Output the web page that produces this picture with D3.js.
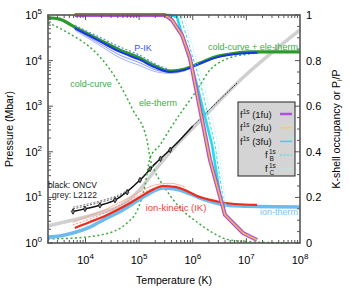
<!DOCTYPE html>
<html><head><meta charset="utf-8">
<script src="https://cdn.jsdelivr.net/npm/d3@7"></script>
<style>body{margin:0;background:#fff}svg{display:block}text{font-family:"Liberation Sans",Arial,sans-serif}</style>
</head><body><svg id="c" width="349" height="291"></svg>
<script>
// ---- tick values ----
const xTickVals=[1e4,1e5,1e6,1e7,1e8];
const xTickExps=["4","5","6","7","8"];
const yLeftTickVals=[1,10,100,1000,1e4,1e5];
const yLeftTickExps=["0","1","2","3","4","5"];
const yRightTickVals=[0,0.2,0.4,0.6,0.8,1];
const yRightTickLabels=["0","0.2","0.4","0.6","0.8","1"];

// ---- fraction curves (right axis) : [T (K), fraction] ----
const totalColdEle=[[2000,0.988],[3300,0.982],[6300,0.947],[18600,0.890],[44000,0.846],[104000,0.811],[198000,0.776],[377000,0.754],[717000,0.763],[1.37e6,0.789],[2.6e6,0.816],[4.95e6,0.829],[1.17e7,0.838],[1e8,0.838]];
const pIK=[[6300,0.942],[18600,0.884],[44000,0.838],[104000,0.803],[198000,0.770],[377000,0.750],[717000,0.760],[1.37e6,0.787],[2.6e6,0.812],[4.95e6,0.826],[1.6e7,0.834]];
const pIKdash=[[6300,0.955],[18600,0.902],[44000,0.860],[104000,0.823],[198000,0.786],[377000,0.760]];
const pIKthinA=[[6300,0.934],[18600,0.866],[44000,0.812],[104000,0.778],[198000,0.752],[377000,0.744],[717000,0.755]];
const pIKthinB=[[6300,0.939],[18600,0.874],[44000,0.824],[104000,0.790],[198000,0.760],[377000,0.748]];
const coldCurve=[[2000,0.966],[4500,0.925],[18600,0.816],[38700,0.715],[76900,0.583],[140000,0.452],[160000,0.373],[200000,0.31],[279000,0.254],[579000,0.154],[1.2e6,0.092],[2.4e6,0.044],[4.95e6,0.013],[1.58e7,0.004],[6e7,0.0]];
const eleTherm=[[2000,0.018],[6400,0.022],[18600,0.035],[35500,0.053],[61000,0.09],[95000,0.15],[128000,0.25],[160000,0.373],[245000,0.43],[377000,0.50],[579000,0.566],[889000,0.627],[1.37e6,0.693],[2.1e6,0.759],[2.83e6,0.785],[5.3e6,0.815],[1.17e7,0.83],[1.8e7,0.836]];
const ionKinetic=[[6300,0.066],[12100,0.092],[25200,0.123],[50000,0.158],[104000,0.202],[160000,0.228],[279000,0.250],[467000,0.246],[717000,0.232],[1.2e6,0.206],[2.1e6,0.189],[3.2e6,0.180],[6.1e6,0.171],[1.58e7,0.167]];
const ionKinThinA=[[5800,0.09],[12100,0.12],[25200,0.15],[50000,0.185],[104000,0.225],[200000,0.255],[380000,0.262],[717000,0.245]];
const ionKinThinB=[[5800,0.08],[12100,0.105],[25200,0.137],[50000,0.172],[104000,0.213],[200000,0.243],[380000,0.255]];
const ionTherm=[[2000,0.026],[3300,0.031],[5800,0.044],[12100,0.070],[25200,0.110],[50000,0.145],[104000,0.193],[160000,0.219],[279000,0.241],[467000,0.237],[889000,0.215],[1.69e6,0.189],[3.2e6,0.171],[7.6e6,0.162],[1e8,0.158]];
const f1s1fu=[[6300,1.0],[304000,1.0],[410000,0.978],[631000,0.912],[889000,0.811],[2.1e6,0.364],[4.0e6,0.123],[8.65e6,0.044],[1.58e7,0.013]];
const f1s2fu=[[6300,1.0],[304000,1.0],[410000,0.978],[631000,0.912],[889000,0.811],[2.1e6,0.364],[4.0e6,0.123],[8.65e6,0.044],[1.58e7,0.013]];
const f1s3fu=[[6300,1.0],[380000,1.0],[508000,0.991],[1.2e6,0.693],[2.29e6,0.43],[3.22e6,0.211],[3.8e6,0.155]];
const f1sB=[[6300,1.0],[450000,1.0],[600000,0.99],[1.4e6,0.70],[2.6e6,0.43],[3.6e6,0.21],[4.0e6,0.155]];
const f1sC=[[6300,1.0],[500000,1.0],[680000,0.99],[1.6e6,0.70],[3.0e6,0.43],[3.9e6,0.21],[4.2e6,0.155]];

// ---- pressure curves (left axis) : [T (K), P (Mbar)] ----
const oncv=[[5850,4.9],[9800,5.6],[18600,6.7],[35500,8.7],[104000,24],[200000,55],[467000,141],[1e6,370]];
const oncvHigh=[[1e6,370],[3.2e6,1400],[6.7e6,3200]];
const oncvMarkers=[[5850,4.9],[9800,5.6],[18600,6.7],[35500,8.7],[60000,13],[104000,24],[160000,42],[250000,70],[380000,110]];
const oncvDashA=[[5850,5.6],[18600,7.8],[35500,9.8],[60000,13.5]];
const oncvDashB=[[5850,6.1],[18600,8.4],[35500,10.5],[60000,14.2]];
const l2122=[[2000,2.36],[5850,3.2],[18600,4.55],[44000,6.5],[104000,15],[200000,40],[467000,130],[1.37e6,480],[6.7e6,3200],[1e8,46900]];

const svg=d3.select("#c");
const x=d3.scaleLog().domain([2000,1e8]).range([48,300]);
const yL=d3.scaleLog().domain([1,1e5]).range([243,15]);
const yR=d3.scaleLinear().domain([0,1]).range([243,15]);

const lineR=(c)=>d3.line().x(d=>x(d[0])).y(d=>yR(d[1])).curve(c||d3.curveMonotoneX);
const lineL=(c)=>d3.line().x(d=>x(d[0])).y(d=>yL(d[1])).curve(c||d3.curveMonotoneX);

function path(data,gen,stroke,w,dash,op){
  svg.append("path").attr("d",gen(data)).attr("fill","none").attr("stroke",stroke)
   .attr("stroke-width",w).attr("stroke-dasharray",dash||null).attr("opacity",op==null?1:op)
   .attr("stroke-linejoin","round");
}

// pressure lines
path(l2122,lineL(),"#d0d0d0",3.5);
path(oncvDashA,lineL(),"#333",0.8,"2,1.5");
path(oncvDashB,lineL(),"#666",0.8,"2,1.5");
path(oncv,lineL(),"#111",1.5);
path(oncvHigh,lineL(),"#222",1,"1.5,1");
svg.selectAll(".dm").data(oncvMarkers).join("path").attr("class","dm")
  .attr("d",d3.symbol().type(d3.symbolDiamond).size(9))
  .attr("transform",d=>`translate(${x(d[0])},${yL(d[1])})`).attr("fill","#777").attr("stroke","#111").attr("stroke-width",0.8);

// fractions
path(eleTherm,lineR(),"#3aaa3a",1.5,"2,2.5");
path(coldCurve,lineR(),"#3aaa3a",1.5,"2,2.5");
path(ionTherm,lineR(),"#6cbbee",3.5);
path(ionKinThinA,lineR(),"#ff9a8a",0.8);
path(ionKinThinB,lineR(),"#ff7a6a",0.8,"2,1.5");
path(ionKinetic,lineR(),"#ee2a1a",2.2);
path(pIKthinA,lineR(),"#99a8ff",0.9);
path(pIKthinB,lineR(),"#7788ff",0.9);
path(totalColdEle,lineR(),"#2a9a2a",3.2);
path(pIK,lineR(),"#1a33ee",2);
path(pIKdash,lineR(),"#6688ff",1.2,"2,2");

// f1s
path(f1sC,lineR(d3.curveLinear),"#aaf0ff",1,"1,1.5");
path(f1sB,lineR(d3.curveLinear),"#33ddee",1,"3,2");
path(f1s3fu,lineR(d3.curveLinear),"#22dcee",2.6);
path(f1s1fu,lineR(d3.curveLinear),"#b050dd",4);
path(f1s2fu,lineR(d3.curveLinear),"#f2b850",1.5);

// frame
const ax="#555";
svg.append("rect").attr("x",48).attr("y",15).attr("width",252).attr("height",228)
  .attr("fill","none").attr("stroke",ax).attr("stroke-width",1.6);

// x ticks (log minor)
const xMinor=[];
for(let e=3;e<8;e++)for(let m=1;m<10;m++){const v=m*Math.pow(10,e);if(v>=2000&&v<=1e8)xMinor.push(v);}
xMinor.forEach(v=>{
  const major=xTickVals.includes(v);const L=major?5:3;
  svg.append("line").attr("x1",x(v)).attr("x2",x(v)).attr("y1",243).attr("y2",243-L).attr("stroke",ax).attr("stroke-width",1);
  svg.append("line").attr("x1",x(v)).attr("x2",x(v)).attr("y1",15).attr("y2",15+L).attr("stroke",ax).attr("stroke-width",1);
});
xTickVals.forEach((v,i)=>{
  const t=svg.append("text").attr("x",x(v)).attr("y",264).attr("text-anchor","middle").attr("font-size",11);
  t.append("tspan").text("10");
  t.append("tspan").attr("dy",-5).attr("font-size",8).text(xTickExps[i]);
});
// left ticks
for(let e=0;e<5;e++)for(let m=1;m<10;m++){const v=m*Math.pow(10,e);
  const L=m==1?5:3;
  svg.append("line").attr("x1",48).attr("x2",48+L).attr("y1",yL(v)).attr("y2",yL(v)).attr("stroke",ax).attr("stroke-width",1);}
yLeftTickVals.forEach((v,i)=>{
  const t=svg.append("text").attr("x",42).attr("y",yL(v)+4).attr("text-anchor","end").attr("font-size",11);
  t.append("tspan").text("10");
  t.append("tspan").attr("dy",-5).attr("font-size",8).text(yLeftTickExps[i]);
});
// right ticks
for(let k=0;k<=20;k++){const v=k/20;const L=(k%4==0)?5:3;
  svg.append("line").attr("x1",300).attr("x2",300-L).attr("y1",yR(v)).attr("y2",yR(v)).attr("stroke",ax).attr("stroke-width",1);}
yRightTickVals.forEach((v,i)=>{
  svg.append("text").attr("x",306).attr("y",yR(v)+4).attr("font-size",11).text(yRightTickLabels[i]);
});

// axis titles
svg.append("text").attr("x",174).attr("y",284).attr("text-anchor","middle").attr("font-size",10.5).text("Temperature (K)");
svg.append("text").attr("transform","translate(13,129) rotate(-90)").attr("text-anchor","middle").attr("font-size",10.5).text("Pressure (Mbar)");
const rt=svg.append("text").attr("transform","translate(340,129) rotate(-90)").attr("text-anchor","middle").attr("font-size",10.5);
rt.append("tspan").text("K-shell occupancy or P");
rt.append("tspan").attr("font-size",7).attr("dy",2).text("i");
rt.append("tspan").attr("dy",-2).text("/P");

// curve labels
const lab=(t,xx,yy,c,a,fs)=>svg.append("text").attr("x",xx).attr("y",yy).attr("font-size",fs||9).attr("fill",c).attr("text-anchor",a||"start").text(t);
lab("P-IK",143,51,"#3355ee","middle");
lab("cold-curve",91,87,"#44aa44","middle");
lab("ele-therm",158,106,"#44aa44","middle");
lab("cold-curve + ele-therm",253,50,"#44aa44","middle");
lab("ion-kinetic (IK)",176,211,"#ee4433","middle",9.5);
lab("ion-therm",279,215,"#77c4ee","middle");
lab("black: ONCV",97,188,"#111","end",8.5);
lab("grey: L2122",97,198,"#222","end",8.5);

// legend
svg.append("rect").attr("x",238).attr("y",102).attr("width",57).attr("height",74).attr("fill","#d4d4d4").attr("stroke","#222").attr("stroke-width",1);
const legItems=[["(1fu)","#b050dd",null,2.5],["(2fu)","#f2d060",null,1.5],["(3fu)","#22dcee",null,1.5],["B","#33ddee","2,1.5",1],["C","#aaf0ff","1,1",1]];
legItems.forEach((it,i)=>{
  const yy=114+i*13.7;
  if(i<3){
    const t=svg.append("text").attr("font-size",9.5).attr("fill","#111").attr("x",240).attr("y",yy+3.5);
    t.append("tspan").text("f");
    t.append("tspan").attr("font-size",6.5).attr("dy",-4).text("1s");
    t.append("tspan").attr("dy",4).text(" "+it[0]);
  }else{
    svg.append("text").attr("font-size",9.5).attr("fill","#111").attr("x",265).attr("y",yy+3).text("f");
    svg.append("text").attr("font-size",6.5).attr("fill","#111").attr("x",269).attr("y",yy-1).text("1s");
    svg.append("text").attr("font-size",6.5).attr("fill","#111").attr("x",269.5).attr("y",yy+6).text(it[0]);
  }
  svg.append("line").attr("x1",280).attr("x2",292).attr("y1",yy).attr("y2",yy).attr("stroke",it[1]).attr("stroke-width",it[3]).attr("stroke-dasharray",it[2]);
});
</script></body></html>
